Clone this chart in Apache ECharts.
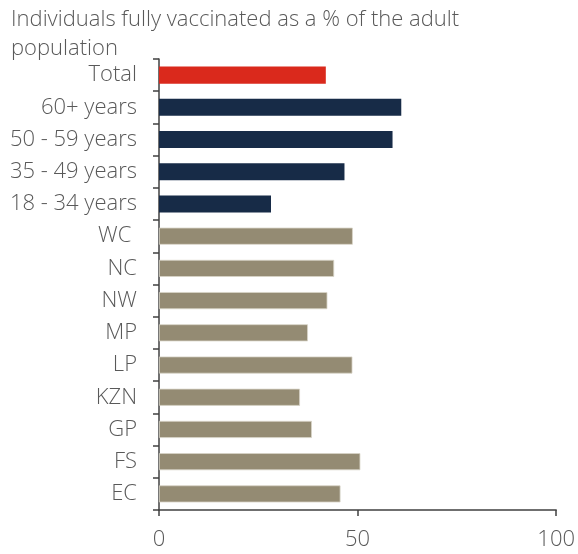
<!DOCTYPE html>
<html>
<head>
<meta charset="utf-8">
<script src="https://cdn.jsdelivr.net/npm/echarts@6/dist/echarts.min.js"></script>
<style>
  html, body { margin: 0; padding: 0; background: #fff; }
  #chart { width: 578px; height: 554px; }
</style>
</head>
<body>
<div id="chart"></div>
<script>
// Share of adults fully vaccinated (%), listed top to bottom
const categories = ['Total', '60+ years', '50 - 59 years', '35 - 49 years', '18 - 34 years',
  'WC ', 'NC', 'NW', 'MP', 'LP', 'KZN', 'GP', 'FS', 'EC'];
const values = [42.0, 61.0, 58.8, 46.7, 28.2, 48.8, 44.1, 42.4, 37.5, 48.7, 35.5, 38.5, 50.7, 45.7];
// Group of each row: national total, age bands, provinces
const groups = ['total', 'age', 'age', 'age', 'age',
  'prov', 'prov', 'prov', 'prov', 'prov', 'prov', 'prov', 'prov', 'prov'];
const xTicks = [0, 50, 100];

const groupColor = { total: '#DA291C', age: '#172B47', prov: '#948B73' };
const textColor = '#595959';
const font = '"Open Sans", Lato, sans-serif';

const chart = echarts.init(document.getElementById('chart'));
chart.setOption({
  animation: false,
  title: {
    text: 'Individuals fully vaccinated as a % of the adult\npopulation',
    left: 6, top: 0,
    textStyle: { color: textColor, fontSize: 22, fontWeight: 300, fontFamily: font, lineHeight: 29 }
  },
  grid: { left: 159, right: 20, top: 59, bottom: 44, containLabel: false },
  xAxis: {
    type: 'value', min: xTicks[0], max: xTicks[xTicks.length - 1], interval: 50,
    axisLine: { show: true, lineStyle: { color: '#404040', width: 1.5 } },
    axisTick: { show: true, length: 6, lineStyle: { color: '#404040', width: 1.5 } },
    splitLine: { show: false },
    axisLabel: { margin: 19, color: textColor, fontSize: 22, fontWeight: 300, fontFamily: font }
  },
  yAxis: {
    type: 'category', inverse: true, data: categories,
    axisLine: { show: true, lineStyle: { color: '#404040', width: 1.5 } },
    axisTick: { show: true, length: 6, alignWithLabel: false, lineStyle: { color: '#404040', width: 1.5 } },
    axisLabel: { margin: 22, color: textColor, fontSize: 22, fontWeight: 300, fontFamily: font }
  },
  series: [{
    type: 'bar',
    barWidth: '53%',
    data: values.map((v, i) => ({
      value: v,
      itemStyle: {
        color: groupColor[groups[i]],
        borderColor: groups[i] === 'prov' ? '#D8D4C8' : groupColor[groups[i]],
        borderWidth: groups[i] === 'prov' ? 0.8 : 0
      }
    }))
  }]
});
</script>
</body>
</html>
